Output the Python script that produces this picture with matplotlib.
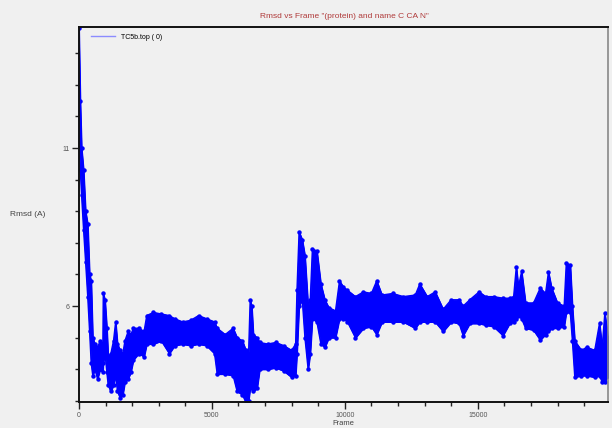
import matplotlib
matplotlib.use("Agg")
import matplotlib.pyplot as plt
from matplotlib.lines import Line2D
from matplotlib.ticker import FixedLocator, MultipleLocator

plt.rcParams['font.family'] = ['Liberation Sans', 'DejaVu Sans']

frames = [0, 50, 100, 175, 250, 330, 400, 460, 520, 600, 700, 800, 900,
          915, 980, 1050, 1100, 1200, 1300, 1380, 1450, 1550, 1650, 1730,
          1850, 1950, 2050, 2250, 2450, 2550, 2800, 3100, 3400, 3600, 3900,
          4200, 4500, 4800, 5100, 5200, 5500, 5800, 5950, 6150, 6280, 6380,
          6440, 6500, 6560, 6700, 6800, 7100, 7400, 7700, 8000, 8150, 8200,
          8280, 8400, 8500, 8620, 8700, 8780, 8950, 9100, 9250, 9400, 9650,
          9800, 9950, 10100, 10400, 10700, 11000, 11200, 11400, 11800, 12200,
          12650, 12820, 13100, 13400, 13700, 14000, 14300, 14450, 14700,
          15050, 15300, 15600, 15950, 16200, 16350, 16450, 16530, 16650,
          16800, 17100, 17350, 17550, 17660, 17780, 18000, 18250, 18330,
          18480, 18560, 18650, 18900, 19100, 19400, 19580, 19680, 19780, 19900]

# upper edge of the rmsd band (A)
rmsd_hi = [14.8, 12.5, 11.0, 10.3, 9.0, 8.6, 7.0, 6.8, 5.0, 4.8, 4.7, 4.9, 4.8,
           6.4, 6.2, 5.3, 4.4, 4.5, 4.9, 5.5, 4.8, 4.6, 4.5, 4.9,
           5.2, 5.1, 5.3, 5.3, 5.2, 5.7, 5.8, 5.75, 5.7, 5.6, 5.5,
           5.55, 5.7, 5.6, 5.5, 5.3, 5.1, 5.3, 5.0, 4.9, 4.6, 4.5,
           6.2, 6.0, 5.1, 5.0, 4.85, 4.8, 4.85, 4.75, 4.6, 4.8, 6.5,
           8.35, 8.1, 7.6, 6.0, 6.2, 7.8, 7.75, 6.7, 6.2, 5.95, 5.85,
           6.8, 6.6, 6.5, 6.3, 6.45, 6.4, 6.8, 6.35, 6.4, 6.3,
           6.35, 6.7, 6.3, 6.45, 5.9, 6.2, 6.2, 6.0, 6.2,
           6.45, 6.3, 6.3, 6.25, 6.25, 6.3, 7.24, 6.6, 7.1,
           6.1, 6.1, 6.57, 6.4, 7.08, 6.57, 6.1, 6.0, 7.36,
           7.3, 6.0, 4.9, 4.6, 4.7, 4.6, 5.46, 4.7, 5.78, 5.0]

# lower edge of the rmsd band (A)
rmsd_lo = [11.0, 10.3, 9.5, 8.4, 7.4, 6.3, 5.2, 4.2, 3.8, 4.0, 3.7, 4.0, 3.9,
           4.2, 4.5, 3.9, 3.5, 3.3, 3.5, 3.8, 3.3, 3.1, 3.2, 3.6,
           3.7, 3.9, 4.3, 4.5, 4.4, 4.8, 4.8, 4.9, 4.5, 4.75, 4.8,
           4.75, 4.8, 4.75, 4.5, 3.85, 3.85, 3.8, 3.3, 3.2, 2.95, 3.0,
           3.4, 3.4, 3.3, 3.4, 4.0, 4.0, 4.05, 3.95, 3.75, 3.8, 4.5,
           6.0, 6.2, 5.0, 4.0, 4.5, 5.6, 5.5, 4.8, 4.7, 5.0, 5.0,
           5.6, 5.6, 5.5, 5.0, 5.3, 5.35, 5.1, 5.5, 5.5, 5.5,
           5.3, 5.5, 5.5, 5.5, 5.2, 5.5, 5.45, 5.07, 5.45,
           5.45, 5.4, 5.35, 5.07, 5.45, 5.5, 5.6, 5.7, 5.6,
           5.3, 5.24, 4.93, 5.1, 5.2, 5.3, 5.3, 5.35, 5.8,
           5.8, 4.9, 3.75, 3.8, 3.8, 3.75, 3.8, 3.6, 3.6, 3.8]

bg = '#f0f0f0'
blue = '#0000ff'

fig = plt.figure(figsize=(6.12, 4.28), dpi=100, facecolor=bg)
ax = fig.add_axes([0.129, 0.061, 0.8645, 0.876], facecolor=bg)

ax.fill_between(frames, rmsd_lo, rmsd_hi, color=blue, linewidth=0.8,
                edgecolor=blue)
ax.plot(frames, rmsd_hi, '-o', color=blue, lw=1, ms=2.2)
ax.plot(frames, rmsd_lo, '-o', color=blue, lw=1, ms=2.2)

ax.set_xlim(0, 19900)
ax.set_ylim(2.97, 14.83)

ax.xaxis.set_major_locator(FixedLocator([0, 5000, 10000, 15000]))
ax.xaxis.set_minor_locator(MultipleLocator(1000))
ax.yaxis.set_major_locator(FixedLocator([6, 11]))
ax.yaxis.set_minor_locator(MultipleLocator(1))
ax.tick_params(which='both', direction='out', colors='#222222',
               labelsize=5, labelcolor='#555555', width=1, pad=2)
ax.tick_params(which='major', length=5)
ax.tick_params(which='minor', length=3)

for side in ['left', 'bottom', 'top']:
    ax.spines[side].set_color('#111111')
    ax.spines[side].set_linewidth(1.4)
ax.spines['right'].set_color('#888888')
ax.spines['right'].set_linewidth(1.2)

ax.set_xlabel('Frame', fontsize=5.5, color='#444444')
ax.xaxis.set_label_coords(0.5, -0.047)
fig.text(0.017, 0.498, 'Rmsd (A)', fontsize=6, color='#444444', va='center')
fig.text(0.562, 0.962, 'Rmsd vs Frame "(protein) and name C CA N"',
         fontsize=6, color='#b03a3a', ha='center', va='center')

handle = Line2D([], [], color='#8c8cff', lw=1)
ax.legend([handle], ['TC5b.top ( 0)'], loc='upper left', frameon=False,
          fontsize=5, handlelength=3.5, borderaxespad=0.6,
          bbox_to_anchor=(0.01, 1.0))

fig.savefig('out.png', dpi=100, facecolor=bg)
